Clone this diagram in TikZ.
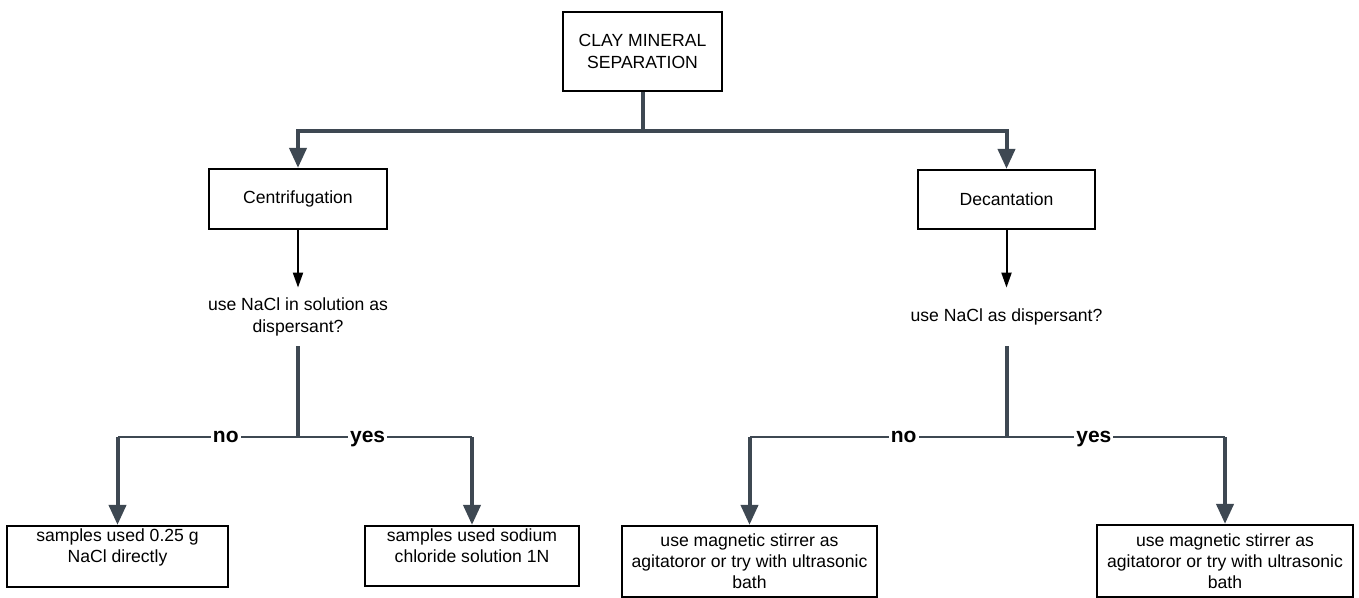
\documentclass[tikz,border=0pt]{standalone}
\usepackage{fontspec}
\setmainfont{Liberation Sans}
\usepackage{tikz}
\usetikzlibrary{arrows.meta}

\definecolor{linkgray}{HTML}{3E4852}
\tikzset{
  box/.style={draw=black,line width=1.1pt,align=center,inner sep=0pt},
  question/.style={align=center,inner sep=0pt,minimum height=29pt},
  answer/.style={fill=white,inner sep=1pt,text height=0.62em,text depth=0.1em,font=\fontsize{10.5}{12}\selectfont\bfseries},
  link/.style={draw=linkgray,line width=2pt},
  branch/.style={draw=linkgray,line width=1.3pt}
}

\begin{document}
\begin{tikzpicture}[x=0.5pt,y=-0.5pt,font=\fontsize{8.8}{10.6}\selectfont]
\useasboundingbox (0,0) rectangle (1359,598);
%\draw[red] (0,0) grid[step=100] (1359,598);
\begin{scope}
    \node[box,minimum width=79.5pt,minimum height=39.5pt] (clay) at (642.5,51.5) {CLAY MINERAL\\SEPARATION};
    \node[box,minimum width=89pt,minimum height=30pt] (centr) at (298,199) {Centrifugation};
    \node[box,minimum width=88.5pt,minimum height=29.5pt] (decant) at (1006.5,199.5) {Decantation};
    \node[question] (q1) at (298,317) {use NaCl in solution as\\dispersant?};
    \node[question] (q2) at (1006.5,317) {use NaCl as dispersant?};
    \node[box,minimum width=110.5pt,minimum height=30.5pt] (lb1) at (117.5,556.5) {samples used 0.25 g\\NaCl directly\\\mbox{}};
    \node[box,minimum width=107pt,minimum height=30pt] (lb2) at (472,556) {samples used sodium\\chloride solution 1N\\\mbox{}};
    \node[box,minimum width=127.5pt,minimum height=35.5pt] (rb1) at (749.5,561.5) {use magnetic stirrer as\\agitatoror or try with ultrasonic\\bath};
    \node[box,minimum width=128pt,minimum height=36pt] (rb2) at (1225,561) {use magnetic stirrer as\\agitatoror or try with ultrasonic\\bath};
\end{scope}

\begin{scope}
    \coordinate (split) at (642.5,131);
    \coordinate (j1) at (298,437);
    \coordinate (n1) at (117.5,437);
    \coordinate (y1) at (472,437);
    \coordinate (j2) at (1006.5,437);
    \coordinate (n2) at (749.5,437);
    \coordinate (y2) at (1225,437);
\end{scope}

\begin{scope}[>={Triangle[length=10pt,width=8.5pt]},every edge/.style={link}]
    \path [-] (clay) edge (split);
    \draw [link,->] (split) -| (centr);
    \draw [link,->] (split) -| (decant);

    \path [-] (q1) edge (j1);
    \draw [branch] (j1) -- node[answer,pos=0.4] {no} (n1);
    \draw [branch] (j1) -- node[answer,pos=0.4] {yes} (y1);
    \path [->] (n1) edge (lb1);
    \path [->] (y1) edge (lb2);

    \path [-] (q2) edge (j2);
    \draw [branch] (j2) -- node[answer,pos=0.4] {no} (n2);
    \draw [branch] (j2) -- node[answer,pos=0.4] {yes} (y2);
    \path [->] (n2) edge (rb1);
    \path [->] (y2) edge (rb2);
\end{scope}

\begin{scope}[>={Triangle[length=7.5pt,width=5pt]},every edge/.style={draw=black,line width=1pt}]
    \path [->] (centr) edge (q1);
    \path [->] (decant) edge (q2);
\end{scope}
\end{tikzpicture}
\end{document}
